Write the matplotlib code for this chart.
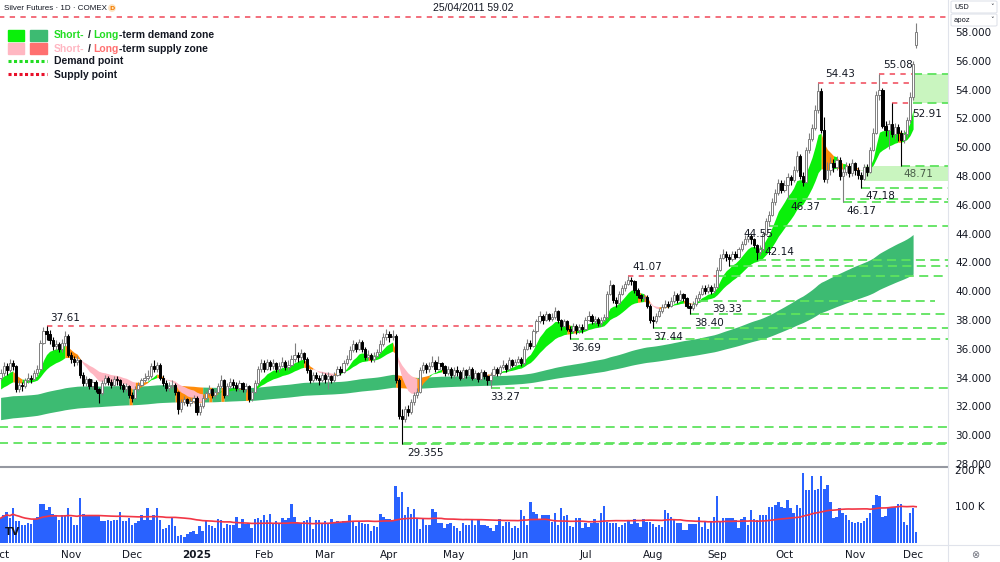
import numpy as np
import pandas as pd
import matplotlib
matplotlib.use('Agg')
import matplotlib.pyplot as plt
from matplotlib.lines import Line2D
from matplotlib.patches import Rectangle, FancyBboxPatch

# ---- data (COMEX silver, daily) ----
holidays = ['2024-11-28', '2024-12-25', '2025-01-01', '2025-04-18', '2025-07-04', '2025-11-27']
dates = pd.bdate_range('2024-10-01', '2025-12-02', freq='C', holidays=holidays)

opens = [
    34.0, 34.3, 34.8, 34.5, 35.0, 34.8, 33.2, 33.5, 33.4, 33.8,
    34.0, 33.9, 34.3, 34.6, 36.4, 37.2, 37.0, 36.6, 36.2, 36.3,
    36.0, 36.4, 36.9, 35.6, 35.3, 35.1, 35.2, 34.2, 33.6, 33.9,
    33.4, 33.7, 33.2, 32.9, 33.6, 34.0, 33.7, 33.5, 33.9, 33.8,
    33.5, 33.2, 33.4, 32.8, 32.6, 33.2, 33.5, 33.8, 34.0, 34.1,
    34.8, 34.6, 34.9, 34.0, 33.6, 33.3, 33.4, 33.5, 33.0, 31.8,
    32.3, 32.5, 32.2, 32.4, 32.6, 31.6, 32.0, 32.6, 32.9, 33.2,
    32.8, 33.0, 33.4, 33.8, 32.8, 33.4, 33.7, 33.5, 33.3, 33.6,
    33.2, 33.4, 32.5, 33.0, 33.6, 34.6, 35.0, 34.6, 35.1, 34.8,
    35.0, 34.6, 34.8, 35.1, 34.7, 34.9, 35.3, 35.6, 35.4, 35.7,
    35.3, 34.5, 33.8, 34.2, 34.0, 33.8, 34.2, 33.9, 34.1, 33.8,
    34.2, 34.6, 34.4, 35.0, 35.3, 35.9, 36.3, 36.0, 36.5, 36.0,
    35.4, 35.6, 35.3, 35.5, 35.8, 36.3, 36.8, 37.0, 36.8, 36.9,
    33.8, 31.3, 31.1, 31.8, 31.6, 32.3, 32.8, 33.0, 34.5, 34.9,
    34.6, 34.8, 35.1, 34.6, 35.0, 34.8, 34.3, 34.6, 34.2, 34.5,
    34.4, 34.0, 34.5, 34.2, 34.6, 34.0, 34.3, 33.9, 34.4, 34.1,
    33.8, 34.2, 34.6, 34.3, 34.7, 34.9, 34.6, 35.2, 34.9, 35.1,
    35.3, 35.0, 36.0, 36.4, 36.2, 37.2, 37.9, 38.3, 38.0, 38.4,
    38.1, 38.2, 38.6, 38.0, 37.6, 37.9, 37.4, 37.2, 37.6, 37.3,
    37.5, 37.4, 38.0, 38.3, 37.9, 38.1, 37.8, 38.0, 38.2, 39.8,
    40.4, 39.4, 39.2, 39.8, 40.2, 40.5, 40.8, 40.7, 40.1, 39.7,
    39.5, 39.6, 39.0, 38.0, 37.9, 38.3, 38.6, 38.9, 39.1, 39.0,
    39.3, 39.7, 39.4, 39.8, 39.5, 39.0, 38.8, 39.1, 39.5, 39.8,
    40.2, 40.0, 40.3, 40.0, 40.3, 41.5, 42.3, 42.6, 42.4, 42.2,
    42.6, 42.4, 42.9, 43.3, 43.6, 43.8, 43.6, 43.2, 42.7, 42.9,
    44.0, 44.9, 45.3, 46.2, 46.8, 47.5, 47.0, 47.4, 47.9, 47.7,
    48.4, 49.4, 48.0, 47.6, 49.8, 50.6, 51.3, 52.6, 53.9, 51.2,
    47.8, 48.4, 48.9, 48.6, 49.1, 48.0, 48.3, 48.7, 48.2, 48.9,
    48.4, 48.1, 47.8, 48.6, 48.3, 49.8, 51.0, 53.6, 54.0, 51.5,
    51.2, 51.6, 50.9, 51.4, 51.0, 50.5, 50.9, 51.9, 53.5, 57.1,
]
highs = [
    34.6, 35.1, 35.0, 35.3, 35.2, 34.9, 33.8, 33.7, 34.0, 34.3,
    34.2, 34.5, 34.9, 36.6, 37.5, 37.61, 37.3, 36.8, 36.6, 36.5,
    36.7, 37.2, 37.0, 35.8, 35.5, 35.5, 35.3, 34.4, 34.1, 34.0,
    33.9, 33.8, 33.3, 33.8, 34.2, 34.1, 33.9, 34.1, 34.1, 33.9,
    33.6, 33.6, 33.5, 33.0, 33.4, 33.7, 34.0, 34.3, 34.5, 35.0,
    35.2, 35.1, 35.0, 34.2, 33.8, 33.7, 33.8, 33.6, 33.1, 32.5,
    32.7, 32.6, 32.6, 32.8, 32.7, 32.2, 32.8, 33.1, 33.5, 33.3,
    33.2, 33.6, 34.2, 33.9, 33.6, 34.0, 33.9, 33.7, 33.8, 33.7,
    33.6, 33.5, 33.2, 33.8, 34.8, 35.3, 35.2, 35.3, 35.2, 35.3,
    35.1, 35.1, 35.4, 35.2, 35.2, 35.6, 36.4, 35.8, 36.0, 35.8,
    35.4, 34.6, 34.4, 34.4, 34.2, 34.4, 34.3, 34.4, 34.2, 34.4,
    34.8, 34.8, 35.2, 35.6, 36.2, 36.6, 36.5, 36.7, 36.6, 36.1,
    35.9, 35.7, 35.8, 36.0, 36.6, 37.1, 37.35, 37.2, 37.3, 37.0,
    34.0, 31.8, 32.0, 32.1, 32.5, 33.0, 33.3, 34.7, 35.1, 35.0,
    35.1, 35.5, 35.2, 35.5, 35.1, 34.9, 34.8, 34.7, 34.7, 34.8,
    34.5, 34.7, 34.6, 34.8, 34.7, 34.5, 34.4, 34.6, 34.5, 34.2,
    34.4, 34.8, 34.7, 34.9, 35.2, 35.0, 35.4, 35.3, 35.3, 35.5,
    35.4, 36.2, 36.7, 36.6, 37.4, 38.1, 38.6, 38.4, 38.6, 38.5,
    38.5, 38.9, 38.7, 38.1, 38.1, 38.0, 37.6, 37.8, 37.7, 37.7,
    37.7, 38.2, 38.6, 38.4, 38.3, 38.2, 38.2, 38.4, 40.0, 40.8,
    40.5, 39.6, 40.0, 40.4, 40.7, 41.07, 41.0, 40.8, 40.2, 39.8,
    39.8, 39.7, 39.1, 38.3, 38.5, 38.8, 39.1, 39.4, 39.3, 39.6,
    40.0, 39.9, 40.1, 39.9, 39.6, 39.2, 39.3, 39.7, 40.0, 40.4,
    40.4, 40.5, 40.4, 40.6, 41.7, 42.6, 42.9, 42.8, 42.6, 42.8,
    42.8, 43.1, 43.5, 43.9, 44.1, 44.0, 43.7, 43.3, 43.2, 44.2,
    45.1, 45.6, 46.5, 47.1, 47.8, 47.7, 47.7, 48.2, 48.1, 48.7,
    49.7, 49.5, 48.3, 50.0, 51.0, 51.6, 52.9, 54.43, 54.1, 52.1,
    49.0, 49.3, 49.2, 49.4, 49.3, 48.6, 49.0, 48.9, 49.2, 49.0,
    48.6, 48.3, 48.8, 48.8, 50.0, 51.3, 53.9, 55.08, 54.1, 51.8,
    51.9, 53.07, 51.7, 51.6, 51.2, 51.2, 52.1, 53.8, 56.0, 58.6,
]
lows = [
    33.8, 34.1, 34.2, 34.4, 34.5, 33.0, 33.0, 33.1, 33.3, 33.6,
    33.6, 33.8, 34.1, 34.5, 36.3, 36.6, 36.3, 35.9, 35.9, 35.8,
    35.8, 36.2, 35.4, 35.0, 34.8, 34.9, 34.0, 33.4, 33.4, 33.2,
    33.2, 33.0, 32.2, 32.8, 33.5, 33.5, 33.3, 33.4, 33.5, 33.2,
    33.0, 33.0, 32.6, 32.3, 32.5, 33.1, 33.4, 33.7, 33.8, 34.0,
    34.4, 34.4, 33.8, 33.4, 33.1, 33.1, 33.2, 32.8, 31.5, 31.6,
    32.1, 32.0, 32.0, 32.2, 31.4, 31.4, 31.9, 32.5, 32.8, 32.6,
    32.6, 32.9, 33.3, 32.6, 32.7, 33.3, 33.3, 33.1, 33.1, 33.0,
    33.0, 32.3, 32.4, 32.9, 33.5, 34.4, 34.4, 34.5, 34.5, 34.6,
    34.4, 34.4, 34.7, 34.5, 34.5, 34.8, 35.1, 35.1, 35.2, 35.0,
    34.3, 33.6, 33.7, 33.8, 33.5, 33.7, 33.6, 33.2, 33.6, 33.7,
    34.1, 34.2, 34.3, 34.9, 35.2, 35.8, 35.8, 35.9, 35.8, 35.2,
    35.2, 35.1, 35.1, 35.4, 35.7, 36.2, 36.6, 36.5, 36.6, 33.6,
    31.1, 29.355, 30.9, 31.3, 31.5, 32.1, 32.6, 32.9, 34.3, 34.3,
    34.4, 34.7, 34.4, 34.5, 34.5, 34.1, 34.2, 34.0, 34.0, 34.1,
    33.8, 33.9, 34.0, 34.1, 33.8, 33.9, 33.7, 33.8, 33.9, 33.5,
    33.27, 34.1, 34.1, 34.2, 34.6, 34.4, 34.5, 34.7, 34.8, 35.0,
    34.8, 34.9, 35.9, 36.0, 36.1, 37.1, 37.8, 37.7, 37.9, 37.9,
    37.9, 38.1, 37.8, 37.3, 37.5, 37.2, 36.69, 37.1, 37.0, 37.1,
    37.1, 37.3, 37.9, 37.7, 37.7, 37.6, 37.6, 37.9, 38.1, 39.7,
    39.2, 38.9, 39.1, 39.7, 40.0, 40.4, 40.4, 39.9, 39.5, 39.3,
    39.3, 38.8, 37.8, 37.44, 37.8, 38.2, 38.5, 38.8, 38.8, 38.9,
    39.2, 39.2, 39.3, 39.3, 38.8, 38.40, 38.7, 39.0, 39.33, 39.7,
    39.8, 39.9, 39.8, 39.9, 40.2, 41.4, 42.2, 42.1, 41.75, 42.1,
    42.2, 42.3, 42.8, 43.2, 43.4, 43.3, 43.0, 42.14, 42.5, 42.8,
    43.9, 44.55, 45.2, 46.0, 46.7, 46.8, 46.9, 46.37, 47.4, 47.6,
    48.3, 47.8, 47.3, 47.5, 49.6, 50.4, 51.2, 52.4, 51.0, 47.6,
    47.5, 48.1, 48.3, 48.4, 47.7, 46.17, 48.1, 47.9, 48.0, 48.1,
    47.8, 47.18, 47.7, 48.0, 48.2, 49.7, 50.9, 53.3, 51.3, 50.8,
    49.9, 50.7, 50.6, 50.4, 48.71, 50.3, 50.7, 51.7, 53.3, 56.9,
]
closes = [
    34.3, 34.8, 34.5, 35.0, 34.8, 33.2, 33.5, 33.4, 33.8, 34.0,
    33.9, 34.3, 34.6, 36.4, 37.2, 37.0, 36.6, 36.2, 36.3, 36.0,
    36.4, 36.9, 35.6, 35.3, 35.1, 35.2, 34.2, 33.6, 33.9, 33.4,
    33.7, 33.2, 32.9, 33.6, 34.0, 33.7, 33.5, 33.9, 33.8, 33.5,
    33.2, 33.4, 32.8, 32.6, 33.2, 33.5, 33.8, 34.0, 34.1, 34.8,
    34.6, 34.9, 34.0, 33.6, 33.3, 33.4, 33.5, 33.0, 31.8, 32.3,
    32.5, 32.2, 32.4, 32.6, 31.6, 32.0, 32.6, 32.9, 33.2, 32.8,
    33.0, 33.4, 33.8, 32.8, 33.4, 33.7, 33.5, 33.3, 33.6, 33.2,
    33.4, 32.5, 33.0, 33.6, 34.6, 35.0, 34.6, 35.1, 34.8, 35.0,
    34.6, 34.8, 35.1, 34.7, 34.9, 35.3, 35.6, 35.4, 35.7, 35.3,
    34.5, 33.8, 34.2, 34.0, 33.8, 34.2, 33.9, 34.1, 33.8, 34.2,
    34.6, 34.4, 35.0, 35.3, 35.9, 36.3, 36.0, 36.5, 36.0, 35.4,
    35.6, 35.3, 35.5, 35.8, 36.3, 36.8, 37.0, 36.8, 36.9, 33.8,
    31.3, 31.1, 31.8, 31.6, 32.3, 32.8, 33.0, 34.5, 34.9, 34.6,
    34.8, 35.1, 34.6, 35.0, 34.8, 34.3, 34.6, 34.2, 34.5, 34.4,
    34.0, 34.5, 34.2, 34.6, 34.0, 34.3, 33.9, 34.4, 34.1, 33.8,
    34.2, 34.6, 34.3, 34.7, 34.9, 34.6, 35.2, 34.9, 35.1, 35.3,
    35.0, 36.0, 36.4, 36.2, 37.2, 37.9, 38.3, 38.0, 38.4, 38.1,
    38.2, 38.6, 38.0, 37.6, 37.9, 37.4, 37.2, 37.6, 37.3, 37.5,
    37.4, 38.0, 38.3, 37.9, 38.1, 37.8, 38.0, 38.2, 39.8, 40.4,
    39.4, 39.2, 39.8, 40.2, 40.5, 40.8, 40.7, 40.1, 39.7, 39.5,
    39.6, 39.0, 38.0, 37.9, 38.3, 38.6, 38.9, 39.1, 39.0, 39.3,
    39.7, 39.4, 39.8, 39.5, 39.0, 38.8, 39.1, 39.5, 39.8, 40.2,
    40.0, 40.3, 40.0, 40.3, 41.5, 42.3, 42.6, 42.4, 42.2, 42.6,
    42.4, 42.9, 43.3, 43.6, 43.8, 43.6, 43.2, 42.7, 42.9, 44.0,
    44.9, 45.3, 46.2, 46.8, 47.5, 47.0, 47.4, 47.9, 47.7, 48.4,
    49.4, 48.0, 47.6, 49.8, 50.6, 51.3, 52.6, 53.9, 51.2, 47.8,
    48.4, 48.9, 48.6, 49.1, 48.0, 48.3, 48.7, 48.2, 48.9, 48.4,
    48.1, 47.8, 48.6, 48.3, 49.8, 51.0, 53.6, 54.0, 51.5, 51.2,
    51.6, 50.9, 51.4, 51.0, 50.5, 50.9, 51.9, 53.5, 55.8, 58.0,
]
volume_k = [
    68, 78, 85, 68, 95, 60, 60, 50, 50, 55,
    52, 65, 72, 106, 106, 90, 100, 80, 77, 64,
    77, 77, 95, 72, 50, 50, 122, 80, 77, 77,
    74, 74, 77, 60, 60, 64, 60, 64, 64, 85,
    60, 60, 68, 50, 55, 60, 77, 64, 95, 64,
    77, 95, 64, 37, 42, 50, 68, 46, 19, 22,
    16, 25, 31, 34, 25, 46, 34, 64, 48, 46,
    40, 65, 64, 40, 52, 50, 50, 70, 40, 65,
    52, 55, 40, 65, 68, 64, 77, 64, 80, 56,
    60, 56, 68, 64, 68, 108, 72, 56, 56, 60,
    62, 70, 38, 62, 64, 55, 60, 55, 65, 55,
    60, 56, 60, 60, 77, 60, 46, 60, 55, 52,
    52, 34, 46, 44, 79, 70, 65, 65, 64, 155,
    126, 140, 77, 98, 80, 92, 68, 38, 65, 50,
    50, 92, 85, 55, 55, 40, 52, 55, 46, 40,
    34, 55, 50, 50, 62, 48, 64, 48, 48, 46,
    40, 34, 50, 65, 47, 58, 58, 40, 47, 40,
    90, 74, 49, 113, 84, 79, 65, 77, 77, 77,
    58, 81, 49, 95, 74, 77, 47, 45, 68, 68,
    40, 54, 43, 56, 65, 54, 83, 101, 58, 54,
    56, 56, 45, 49, 56, 63, 52, 65, 54, 45,
    65, 58, 58, 52, 45, 49, 45, 90, 81, 70,
    65, 56, 56, 36, 36, 52, 52, 52, 72, 45,
    58, 38, 58, 70, 129, 58, 68, 68, 68, 68,
    63, 40, 65, 72, 49, 90, 65, 63, 77, 77,
    77, 100, 100, 104, 113, 100, 95, 118, 95, 83,
    104, 95, 191, 145, 145, 184, 145, 147, 184, 147,
    159, 113, 68, 72, 95, 81, 77, 63, 58, 54,
    58, 54, 61, 68, 81, 104, 132, 129, 72, 74,
    95, 100, 100, 107, 107, 58, 49, 81, 95, 31,
]

# supply / demand points: level, first bar, last bar
supply_levels = [59.02, 37.61, 41.07, 54.43, 55.08, 53.07]
supply_start = [-1, 15, 205, 267, 287, 291]
supply_end = [310, 174, 234, 298, 298, 298]

demand_levels = [29.48, 29.355, 30.55, 33.27, 36.69, 37.44, 38.40, 39.33, 41.07,
                 41.75, 42.14, 44.55, 46.37, 46.17, 47.18, 48.71, 53.07, 55.08]
demand_start = [-1, 131, -1, 160, 186, 213, 225, 228, 234,
                238, 247, 251, 257, 275, 281, 294, 298, 298]
demand_end = [310, 310, 310, 310, 310, 310, 310, 305, 310,
              310, 310, 310, 310, 310, 310, 310, 310, 310]

zone_start = [282, 298]
zone_low = [47.65, 53.07]
zone_high = [48.71, 55.08]

label_text = ['37.61', '29.355', '33.27', '36.69', '37.44', '38.40', '39.33', '41.07', '42.14',
              '44.55', '46.37', '46.17', '47.18', '48.71', '54.43', '55.08', '52.91']
label_x = [16.1, 132.7, 159.8, 186.3, 213.1, 226.5, 232.3, 206.5, 249.6,
           242.5, 257.8, 276.1, 282.6, 294.7, 269.2, 288.2, 297.6]
label_y = [38.14, 28.76, 32.65, 36.06, 36.82, 37.79, 38.76, 41.68, 42.72,
           43.97, 45.85, 45.57, 46.61, 48.14, 55.08, 55.71, 52.31]

month_labels = ['Oct', 'Nov', 'Dec', '2025', 'Feb', 'Mar', 'Apr', 'May', 'Jun',
                'Jul', 'Aug', 'Sep', 'Oct', 'Nov', 'Dec']
price_ticks = list(range(28, 60, 2))

# ---- layout ----
W, H = 1000, 562
def fx(px):
    return px / W
def fy(py):
    return 1 - py / H

plt.rcParams['font.family'] = 'DejaVu Sans'
fig = plt.figure(figsize=(10, 5.62), dpi=100)
ax = fig.add_axes([0, fy(467), 948 / W, 467 / H])
ax2 = fig.add_axes([0, fy(545), 948 / W, 77 / H])

x = np.arange(len(closes))
o = np.array(opens); h = np.array(highs); l = np.array(lows); c = np.array(closes)
xlim = (-0.196, 309.4)


def ema(vals, span, seed):
    s = pd.Series(np.r_[seed, vals])
    return s.ewm(span=span, adjust=False).mean().to_numpy()[1:]


def draw_band(a, b, col_up, col_dn, col_mix, z):
    top = np.maximum(a, b)
    bot = np.minimum(a, b)
    mid = (a + b) / 2
    cols = np.where(a >= b, np.where(c < mid, col_mix, col_up),
                    np.where(c > mid, col_mix, col_dn))
    n = len(a) - 1          # band stops at the previous bar
    runs = []
    s = 0
    for i in range(1, n):
        if cols[i] != cols[s]:
            runs.append((s, i - 1))
            s = i
    runs.append((s, n - 1))
    for s, e in runs:
        s0 = max(s - 1, 0)
        ax.fill_between(x[s0:e + 1], bot[s0:e + 1], top[s0:e + 1],
                        color=cols[s], lw=0, zorder=z)


orange = '#ff8c0a'
draw_band(ema(c, 144, 32.6), ema(c, 233, 31.05), '#3dbb72', '#ff7070', orange, 1)
draw_band(ema(c, 8, 33.8), ema(c, 21, 33.1), '#0af00a', '#ffb7c2', orange, 1.5)

for s, lo, hi in zip(zone_start, zone_low, zone_high):
    ax.fill_between([s, 310], lo, hi, color='#c9f5bf', lw=0, zorder=0.5)

for lev, s, e in zip(demand_levels, demand_start, demand_end):
    ax.plot([s, e], [lev, lev], color='#5ee35e', lw=1.3, ls=(0, (5, 3)), zorder=2)
for lev, s, e in zip(supply_levels, supply_start, supply_end):
    ax.plot([s, e], [lev, lev], color='#f04657', lw=1.1, ls=(0, (3.5, 3.5)), zorder=2)

# candles
up = c >= o
ax.vlines(x[up], l[up], h[up], color='#7f7f7f', lw=0.8, zorder=4)
ax.vlines(x[~up], l[~up], h[~up], color='black', lw=0.8, zorder=4)
body_lo = np.minimum(o, c)
body_h = np.maximum(np.abs(c - o), 0.05)
ax.bar(x[up], body_h[up], bottom=body_lo[up], width=0.72, color='white',
       edgecolor='#7f7f7f', linewidth=0.7, zorder=5)
ax.bar(x[~up], body_h[~up], bottom=body_lo[~up], width=0.72, color='black',
       edgecolor='black', linewidth=0.7, zorder=5)

for t, lx, ly in zip(label_text, label_x, label_y):
    col = '#4a5f4a' if t == '48.71' else '#131722'
    ax.text(lx, ly, t, fontsize=7.5, color=col, ha='left', va='center', zorder=6)

ax.set_xlim(*xlim)
ax.set_ylim(27.79, 60.22)
ax.yaxis.tick_right()
ax.set_yticks(price_ticks)
ax.set_yticklabels([f'{v:.3f}' for v in price_ticks])
ax.tick_params(axis='y', length=0, pad=5, labelsize=7.5, labelcolor='#131722')
ax.set_xticks([])
for sp in ax.spines.values():
    sp.set_visible(False)

# volume
vol = np.array(volume_k)
ax2.bar(x, vol, width=0.8, color='#2962ff', zorder=2)
vol_ma = pd.Series(vol).rolling(50, min_periods=1).mean()
ax2.plot(x, vol_ma, color='#f23645', lw=1.2, zorder=3)
ax2.set_xlim(*xlim)
ax2.set_ylim(-5.5, 205.5)
ax2.yaxis.tick_right()
ax2.set_yticks([100, 200])
ax2.set_yticklabels(['100 K', '200 K'])
ax2.tick_params(axis='y', length=0, pad=5, labelsize=7.5, labelcolor='#131722')
month_pos = [i for i in range(len(dates)) if i == 0 or dates[i].month != dates[i - 1].month]
ax2.set_xticks(month_pos)
ax2.set_xticklabels(month_labels)
ax2.tick_params(axis='x', length=0, pad=3.5, labelsize=7.5, labelcolor='#131722')
for lab in ax2.get_xticklabels():
    if lab.get_text() == '2025':
        lab.set_fontweight('bold')
for sp in ax2.spines.values():
    sp.set_visible(False)

# frame lines
fig.add_artist(Line2D([0, fx(948)], [fy(467), fy(467)], color='#9598a1', lw=1.5))
fig.add_artist(Line2D([fx(948), fx(948)], [0, 1], color='#e0e3eb', lw=0.8))
fig.add_artist(Line2D([0, 1], [fy(545), fy(545)], color='#e0e3eb', lw=0.8))

# header
fig.text(fx(4), fy(8), 'Silver Futures · 1D · COMEX', fontsize=5.8, color='#131722',
         family='Liberation Sans', va='center')
fig.text(fx(112), fy(8), 'D', fontsize=4.5, color='#f57c00', fontweight='bold', va='center', ha='center',
         bbox=dict(boxstyle='circle,pad=0.2', fc='#fde3c0', ec='none'))
fig.text(fx(473), fy(8), '25/04/2011 59.02', fontsize=7.5, color='#131722',
         family='Liberation Sans', va='center', ha='center')

for py, txt in [(7, 'USD'), (20, 'apoz')]:
    fig.add_artist(FancyBboxPatch((fx(951), fy(py + 6)), 46 / W, 12 / H,
                                  boxstyle='round,pad=0,rounding_size=0.002',
                                  transform=fig.transFigure, fc='white', ec='#e0e3eb', lw=0.8))
    fig.text(fx(954), fy(py), txt, fontsize=5, color='#131722', va='center')
    fig.text(fx(992), fy(py), '˅', fontsize=5, color='#131722', va='center', ha='center')

fig.text(fx(5), fy(532), 'TV', fontsize=7.5, fontweight='bold', color='#131722', va='center')
fig.text(fx(975), fy(555), '⊗', fontsize=7, color='#6a6d78', va='center', ha='center')

# legend
renderer = fig.canvas.get_renderer()
fig.add_artist(Rectangle((fx(8), fy(41)), 16 / W, 11 / H, transform=fig.transFigure, color='#0af00a'))
fig.add_artist(Rectangle((fx(30), fy(41)), 17 / W, 11 / H, transform=fig.transFigure, color='#3dbb72'))
fig.add_artist(Rectangle((fx(8), fy(54)), 16 / W, 11 / H, transform=fig.transFigure, color='#ffb7c2'))
fig.add_artist(Rectangle((fx(30), fy(54)), 17 / W, 11 / H, transform=fig.transFigure, color='#ff7070'))
fig.add_artist(Line2D([fx(8), fx(47)], [fy(61), fy(61)], color='#22dd22', lw=2.2, ls=(0, (1, 0.8))))
fig.add_artist(Line2D([fx(8), fx(47)], [fy(74), fy(74)], color='#e8102a', lw=2.2, ls=(0, (1, 0.8))))


def rich(px, py, parts):
    for s, col, gap in parts:
        t = fig.text(fx(px), fy(py), s, color=col, fontsize=7.5, fontweight='bold',
                     family='Liberation Sans', va='center', ha='left')
        px += t.get_window_extent(renderer=renderer).width + gap


rich(54, 35.5, [('Short-', '#22dd22', 3), ('/', '#131722', 3), ('Long', '#22dd22', 0),
                ('-term demand zone', '#131722', 0)])
rich(54, 48.5, [('Short-', '#ffb7c2', 3), ('/', '#131722', 3), ('Long', '#ff7070', 0),
                ('-term supply zone', '#131722', 0)])
rich(54, 61.5, [('Demand point', '#131722', 0)])
rich(54, 74.5, [('Supply point', '#131722', 0)])

fig.savefig('out.png', dpi=100)
